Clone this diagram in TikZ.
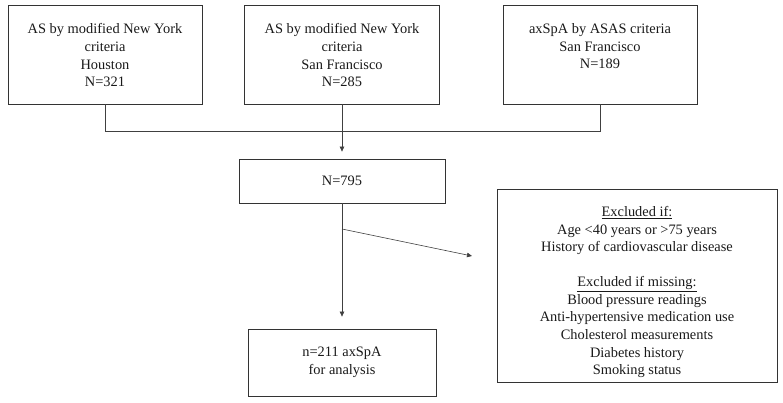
\documentclass[tikz,border=0pt]{standalone}
\usepackage{fontspec}
\setmainfont{Liberation Serif}
\usetikzlibrary{arrows.meta}
\tikzset{
  txt/.style={font=\fontsize{14.4pt}{17.6pt}\selectfont, text=black!90},
  srcbox/.style={draw=black!80, line width=0.8pt, inner sep=0pt, txt},
  cbox/.style={draw=black!80, line width=0.8pt, inner sep=0pt, align=center, txt},
  conn/.style={draw=black!75, line width=0.6pt},
  arr/.style={conn, -{Triangle[length=5pt,width=4.5pt]}},
}
\newcommand{\topbox}[4]{\parbox[c][#2][t]{#1}{\centering\vspace*{#3}#4\par}}
\begin{document}
\begin{tikzpicture}[x=1pt,y=-1pt]
\useasboundingbox (0,0) rectangle (783,402);
\node[srcbox] (b1) at (105,54.5) {\topbox{194pt}{99pt}{18.8pt}{AS by modified New York\\criteria\\Houston\\N=321}};
\node[srcbox] (b2) at (342,54.5) {\topbox{195pt}{99pt}{18.8pt}{AS by modified New York\\criteria\\San Francisco\\N=285}};
\node[srcbox] (b3) at (600,54.5) {\topbox{194pt}{99pt}{18.8pt}{axSpA by ASAS criteria\\San Francisco\\N=189}};
\node[cbox, minimum width=206pt, minimum height=44pt] (n795) at (342,181) {N=795};
\node[cbox, minimum width=188pt, minimum height=67pt] (n211) at (342,362.5) {n=211 axSpA\\for analysis};
\node[srcbox] (ex) at (637,285.5)
  {\topbox{280pt}{193pt}{17.5pt}{\underline{Excluded if:}\\Age <40 years or >75 years\\History of cardiovascular disease\\[17.2pt]\underline{Excluded if missing:}\\Blood pressure readings\\Anti-hypertensive medication use\\Cholesterol measurements\\Diabetes history\\Smoking status}};
\coordinate (j) at (0,131);
\draw[conn] (b1.south) -- (b1.south |- j) -- (b3.south |- j) -- (b3.south);
\draw[arr, shorten >=7pt] (b2.south) -- (n795.north);
\draw[arr, shorten >=12pt] (n795.south) -- (n211.north);
\coordinate (br) at (342,229);
\coordinate (et) at (472,256);
\draw[arr] (br) -- (et);
\end{tikzpicture}
\end{document}
